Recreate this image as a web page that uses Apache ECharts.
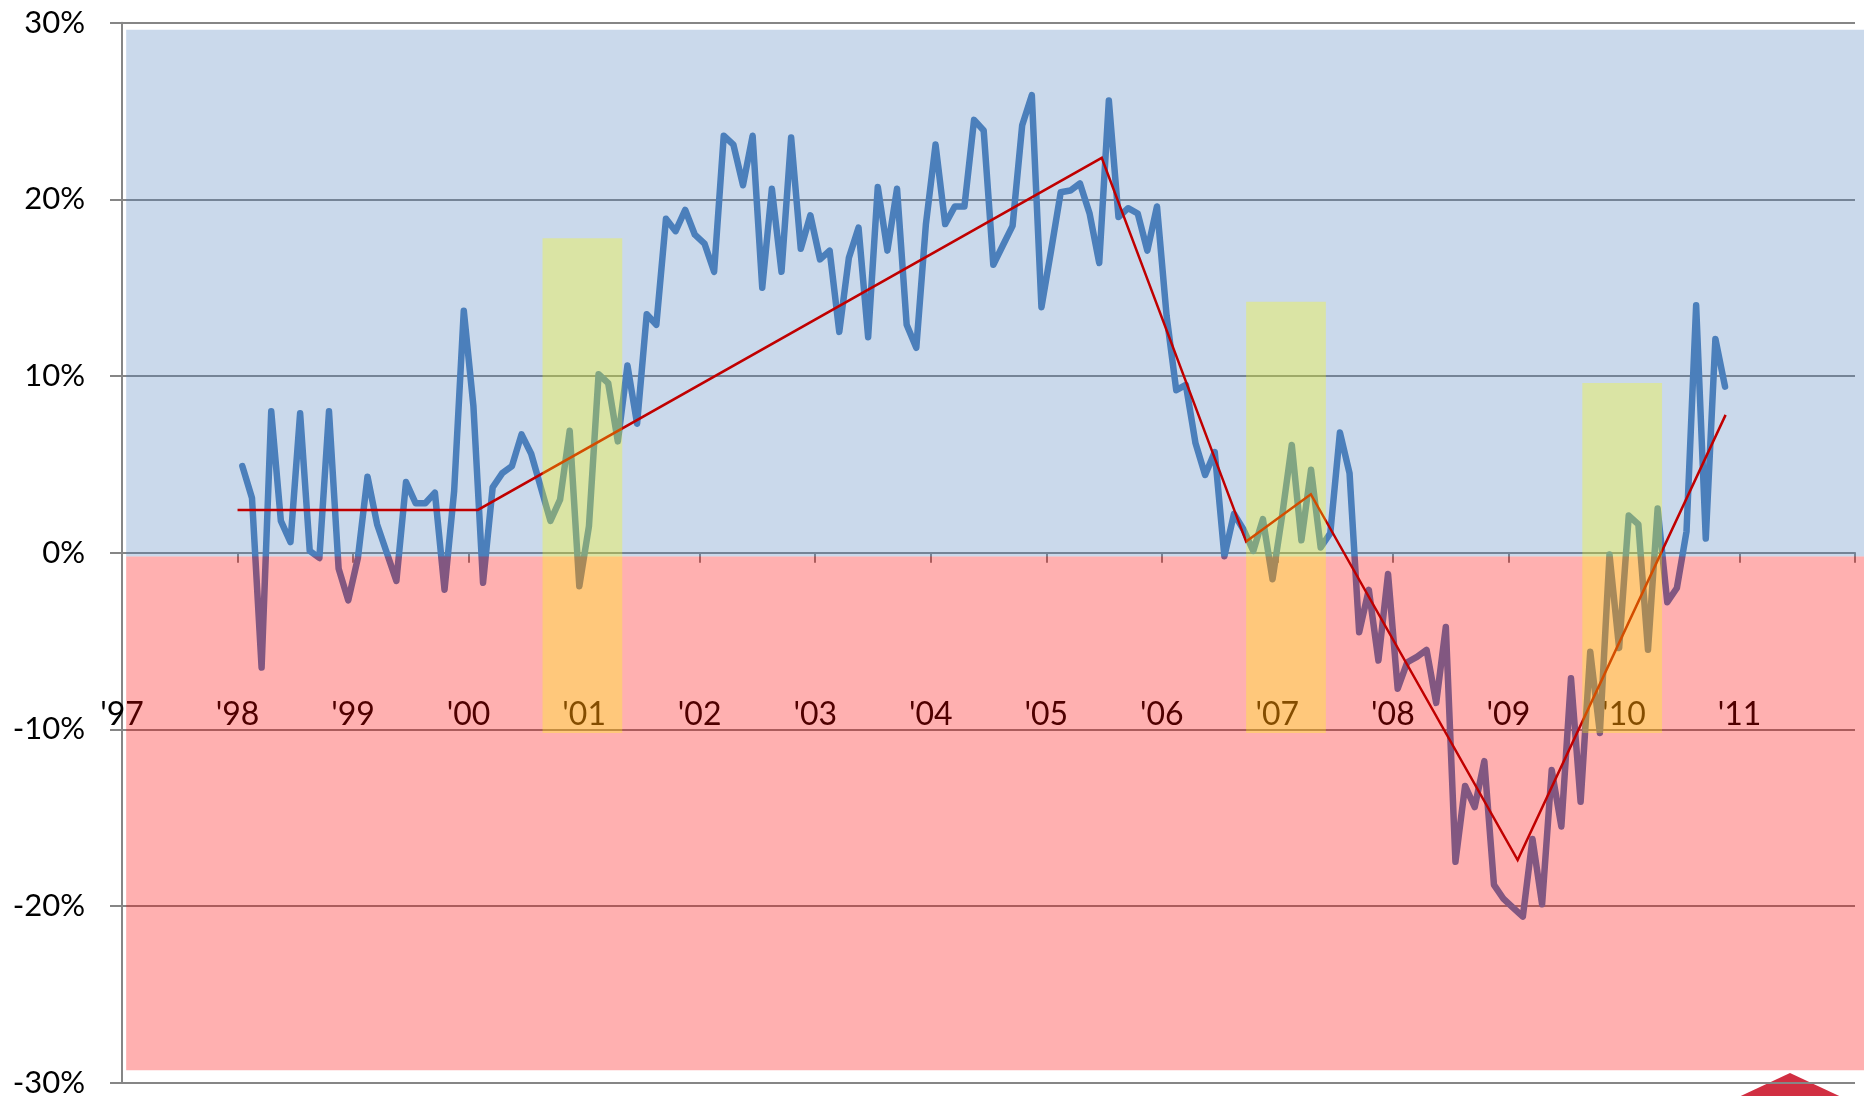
<!DOCTYPE html>
<html>
<head>
<meta charset="utf-8">
<script src="https://cdn.jsdelivr.net/npm/echarts@6/dist/echarts.min.js"></script>
<style>
  html, body { margin: 0; padding: 0; background: #ffffff; }
  #chart { width: 1864px; height: 1096px; }
</style>
</head>
<body>
<div id="chart"></div>
<script>
// Monthly year-over-year growth, January 1998 to November 2010 (percent)
const firstYear = 1998;
const growth = [
  4.9, 3.1, -6.5, 8.0, 1.8, 0.6, 7.9, 0.1, -0.3, 8.0, -0.9, -2.7,
  -0.3, 4.3, 1.6, 0.0, -1.6, 4.0, 2.8, 2.8, 3.4, -2.1, 3.5, 13.7,
  8.3, -1.7, 3.7, 4.5, 4.9, 6.7, 5.6, 3.7, 1.8, 3.0, 6.9, -1.9,
  1.5, 10.1, 9.6, 6.3, 10.6, 7.3, 13.5, 12.9, 18.9, 18.2, 19.4, 18.0,
  17.5, 15.9, 23.6, 23.1, 20.8, 23.6, 15.0, 20.6, 15.9, 23.5, 17.2, 19.1,
  16.6, 17.1, 12.5, 16.7, 18.4, 12.2, 20.7, 17.1, 20.6, 12.9, 11.6, 18.6,
  23.1, 18.6, 19.6, 19.6, 24.5, 23.9, 16.3, 17.4, 18.5, 24.2, 25.9, 13.9,
  17.1, 20.4, 20.5, 20.9, 19.2, 16.4, 25.6, 19.0, 19.5, 19.2, 17.1, 19.6,
  13.4, 9.2, 9.5, 6.2, 4.4, 5.7, -0.2, 2.2, 1.3, 0.1, 1.9, -1.5,
  2.1, 6.1, 0.7, 4.7, 0.3, 1.1, 6.8, 4.5, -4.5, -2.1, -6.1, -1.2,
  -7.7, -6.2, -5.9, -5.5, -8.5, -4.2, -17.5, -13.2, -14.4, -11.8, -18.8, -19.6,
  -20.1, -20.6, -16.2, -19.9, -12.3, -15.5, -7.1, -14.1, -5.6, -10.2, -0.1, -5.4,
  2.1, 1.6, -5.5, 2.5, -2.8, -2.0, 1.2, 14.0, 0.8, 12.1, 9.4
];

// Piecewise trend (turning points in decimal years)
const trendYears  = [1998.0, 2000.08, 2005.48, 2006.73, 2007.29, 2009.08, 2010.88];
const trendValues = [2.42, 2.42, 22.35, 0.63, 3.31, -17.4, 7.8];

// Highlighted periods
const bandStart  = [2000.64, 2006.73, 2009.64];
const bandEnd    = [2001.33, 2007.42, 2010.33];
const bandTop    = [17.8, 14.2, 9.6];
const bandBottom = [-10.2, -10.2, -10.2];

// Growth / contraction zones
const zoneStart  = [1997.036, 1997.036];
const zoneEnd    = [2012.08, 2012.08];
const zoneTop    = [29.6, -0.22];
const zoneBottom = [-0.22, -29.3];

// Axis settings
const yearMin = 1997, yearMax = 2012;
const pctMin = -30, pctMax = 30, pctStep = 10;

const font = 'Lato';
const gridGray = '#868686';
const zoneColors = ['rgba(79,129,189,0.3)', 'rgba(255,0,0,0.31)'];
const bandColor = 'rgba(255,255,0,0.3)';

const monthX = i => firstYear + (i + 0.5) / 12;
const lineData = growth.map((v, i) => [monthX(i), v]);
const trendData = trendYears.map((y, i) => [y, trendValues[i]]);
const zoneData = zoneStart.map((s, i) => [s, zoneEnd[i], zoneTop[i], zoneBottom[i]]);
const bandData = bandStart.map((s, i) => [s, bandEnd[i], bandTop[i], bandBottom[i]]);

function rectItem(colorOf) {
  return function (params, api) {
    const p0 = api.coord([api.value(0), api.value(2)]);
    const p1 = api.coord([api.value(1), api.value(3)]);
    return {
      type: 'rect',
      shape: { x: p0[0], y: p0[1], width: p1[0] - p0[0], height: p1[1] - p0[1] },
      style: { fill: colorOf(params.dataIndex) }
    };
  };
}

const yearLabel = v => (v >= yearMax ? '' : "'" + String(v).slice(2));

const chart = echarts.init(document.getElementById('chart'), null, { renderer: 'canvas' });
chart.setOption({
  animation: false,
  backgroundColor: '#ffffff',
  grid: { left: 122, right: 9, top: 22.7, bottom: 13.3, containLabel: false, outerBoundsMode: 'none' },
  xAxis: [
    {
      // zero line with yearly ticks
      type: 'value',
      min: yearMin, max: yearMax, interval: 1,
      position: 'bottom',
      axisLine: { show: true, onZero: true, lineStyle: { color: gridGray, width: 2 } },
      axisTick: { show: true, length: 10, lineStyle: { color: gridGray, width: 2 } },
      splitLine: { show: false },
      axisLabel: { show: false }
    },
    {
      // year labels, drawn inside the plot below the zero line
      type: 'value',
      min: yearMin, max: yearMax, interval: 1,
      position: 'bottom',
      offset: 0,
      axisLine: { show: false, onZero: false },
      axisTick: { show: false },
      splitLine: { show: false },
      axisLabel: {
        margin: -384,
        fontFamily: font, fontSize: 32, color: '#000000',
        showMaxLabel: false,
        formatter: yearLabel
      }
    }
  ],
  yAxis: {
    type: 'value',
    min: pctMin, max: pctMax, interval: pctStep,
    axisLine: { show: true, lineStyle: { color: gridGray, width: 2 } },
    axisTick: { show: true, length: 12, lineStyle: { color: gridGray, width: 2 } },
    splitLine: { show: true, lineStyle: { color: gridGray, width: 2 } },
    axisLabel: { margin: 37, fontFamily: font, fontSize: 31, color: '#000000', formatter: '{value}%' }
  },
  graphic: [{
    type: 'polygon',
    z: -1,
    shape: { points: [[1790, 1073], [1850, 1101], [1790, 1129], [1730, 1101]] },
    style: { fill: '#D12F42' }
  }],
  series: [
    {
      type: 'line',
      data: lineData,
      showSymbol: false,
      silent: true,
      z: 2,
      lineStyle: { color: '#4A7EBB', width: 6.5, cap: 'round', join: 'round' }
    },
    {
      type: 'custom',
      data: zoneData,
      encode: { x: [0, 1], y: [2, 3] },
      clip: false,
      silent: true,
      z: 3,
      renderItem: rectItem(i => zoneColors[i])
    },
    {
      type: 'line',
      data: trendData,
      showSymbol: false,
      silent: true,
      z: 4,
      lineStyle: { color: '#C00000', width: 2.5, join: 'miter' }
    },
    {
      type: 'custom',
      data: bandData,
      encode: { x: [0, 1], y: [2, 3] },
      clip: false,
      silent: true,
      z: 5,
      renderItem: rectItem(() => bandColor)
    }
  ]
});
</script>
</body>
</html>
